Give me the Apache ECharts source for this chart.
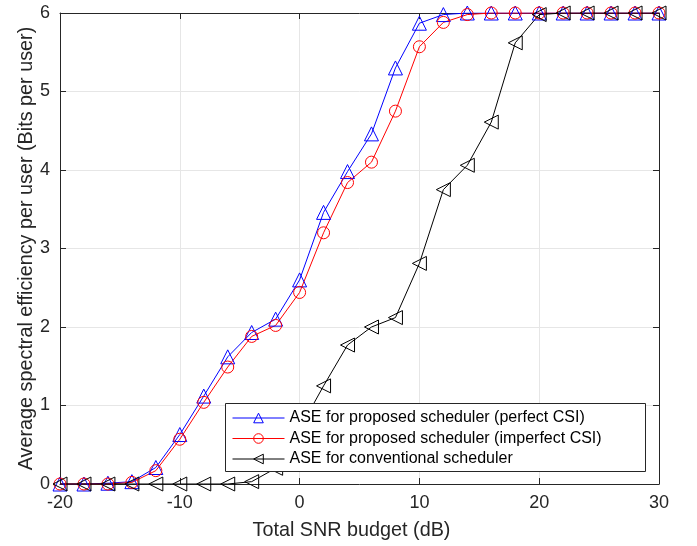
<!DOCTYPE html>
<html><head><meta charset="utf-8">
<script src="https://cdn.jsdelivr.net/npm/echarts@6/dist/echarts.min.js"></script>
<style>html,body{margin:0;padding:0;background:#fff}#c{width:697px;height:546px}</style>
</head><body><div id="c"></div>
<script>
const snr = [-20,-18,-16,-14,-12,-10,-8,-6,-4,-2,0,2,4,6,8,10,12,14,16,18,20,22,24,26,28,30];
const asePerfect = [0,0,0.01,0.03,0.21,0.63,1.12,1.62,1.93,2.1,2.6,3.46,3.98,4.46,5.3,5.87,5.98,6,6,6,6,6,6,6,6,6];
const aseImperfect = [0,0,0,0.02,0.17,0.57,1.04,1.49,1.88,2.02,2.44,3.2,3.84,4.1,4.75,5.57,5.88,5.98,6,6,6,6,6,6,6,6];
const aseConventional = [0,0,0,0,0,0,0,0,0.03,0.2,0.7,1.25,1.77,2.0,2.12,2.81,3.75,4.06,4.61,5.62,5.98,6,6,6,6,6];
const xTicks = [-20,-10,0,10,20,30];
const yTicks = [0,1,2,3,4,5,6];
const names = ['ASE for proposed scheduler (perfect CSI)','ASE for proposed scheduler (imperfect CSI)','ASE for conventional scheduler'];

const pair = ys => snr.map((x,i)=>[x, ys[i]]);
const font = 'Liberation Sans, Arial, Helvetica, sans-serif';
const axisCol = '#262626';
function mk(name, ys, color, symbol, size, rot){
  return {name, type:'line', data:pair(ys), symbol, symbolSize:size, symbolRotate:rot,
    lineStyle:{color, width:1}, itemStyle:{color:'rgba(0,0,0,0)', borderColor:color, borderWidth:1},
    color, showAllSymbol:true, animation:false, z: 3};
}
const tickStyle = {inside:true, length:6, lineStyle:{color:axisCol}};
const lineStyle = {show:true, onZero:false, lineStyle:{color:axisCol}};
const chart = echarts.init(document.getElementById('c'), null, {renderer:'canvas'});
chart.setOption({
  animation:false,
  grid:{left:60, right:38, top:13, bottom:61, show:false},
  xAxis:[{type:'value', min:-20, max:30, interval:10, position:'bottom',
    name:'Total SNR budget (dB)', nameLocation:'middle', nameGap:37, nameMoveOverlap:false,
    nameTextStyle:{fontFamily:font, fontSize:19.8, color:axisCol, padding:[0,16,0,0]},
    axisLine:lineStyle, axisTick:tickStyle,
    axisLabel:{fontFamily:font, fontSize:18, color:axisCol, margin:10,
      formatter:v=>xTicks.includes(v)?String(v):''},
    splitLine:{show:true, lineStyle:{color:'#e6e6e6'}}},
   {type:'value', min:-20, max:30, interval:10, position:'top',
    axisLine:lineStyle, axisTick:tickStyle,
    axisLabel:{show:false}, splitLine:{show:false}}],
  yAxis:[{type:'value', min:0, max:6, interval:1, position:'left',
    name:'Average spectral efficiency per user (Bits per user)', nameLocation:'middle', nameGap:23, nameMoveOverlap:false,
    nameTextStyle:{fontFamily:font, fontSize:19.8, color:axisCol},
    axisLine:lineStyle, axisTick:tickStyle,
    axisLabel:{fontFamily:font, fontSize:18, color:axisCol, margin:10,
      formatter:v=>yTicks.includes(v)?String(v):''},
    splitLine:{show:true, lineStyle:{color:'#e6e6e6'}}},
   {type:'value', min:0, max:6, interval:1, position:'right',
    axisLine:lineStyle, axisTick:tickStyle,
    axisLabel:{show:false}, splitLine:{show:false}}],
  graphic:[{type:'rect', left:225, top:403, z:10,
    shape:{width:420, height:68}, style:{fill:'#fff', stroke:axisCol, lineWidth:1}}],
  legend:{left:225, top:403, orient:'vertical', itemWidth:52, itemHeight:12, itemGap:4.5,
    padding:[7,7,5,7], z:11,
    lineStyle:{width:1}, itemStyle:{borderWidth:1},
    textStyle:{fontFamily:font, fontSize:16, lineHeight:16, color:'#000'}, symbolRotate:'inherit',
    data:names},
  series:[
    mk(names[0], asePerfect, '#0000ff', 'triangle', 14, 0),
    mk(names[1], aseImperfect, '#ff0000', 'circle', 12, 0),
    mk(names[2], aseConventional, '#000000', 'triangle', 14, 90)
  ]
});
</script></body></html>
